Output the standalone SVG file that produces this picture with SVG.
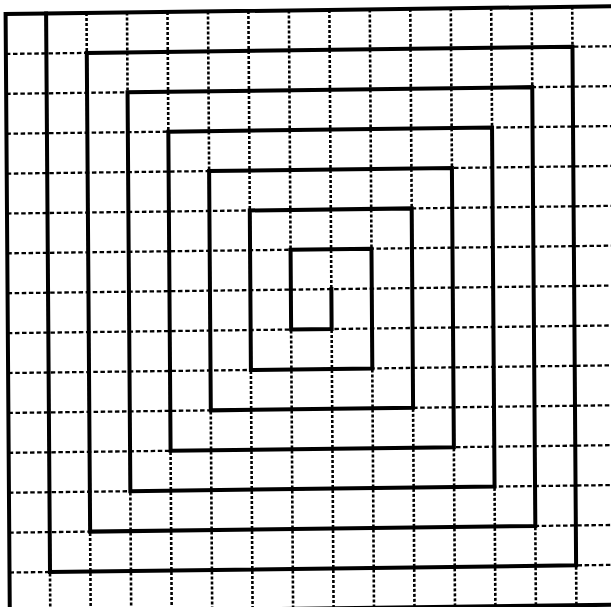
<svg xmlns="http://www.w3.org/2000/svg" width="611" height="607" viewBox="0 0 611 607">
<style>
.bg{fill:#ffffff}
.gv{fill:none;stroke:#000;stroke-width:2.6;stroke-dasharray:3 2}
.gh{fill:none;stroke:#000;stroke-width:2.3;stroke-dasharray:4.5 2.6}
.thick{fill:none;stroke:#000;stroke-width:4;stroke-linejoin:miter;stroke-linecap:square}
</style>
<rect class="bg" x="0" y="0" width="611" height="607"/>
<g id="sheet" transform="matrix(1 -0.0127 0.007 1 0 0)">
<g id="grid-vertical">
<path class="gv" d="M46 14.1V640M86.4 14.1V640M126.9 14.1V640M167.4 14.1V640M207.9 14.1V640M248.3 14.1V640M288.8 14.1V640M329.3 14.1V640M369.7 14.1V640M410.2 14.1V640M450.7 14.1V640M491.1 14.1V640M531.6 14.1V640M572.1 14.1V640"/>
</g>
<g id="grid-horizontal">
<path class="gh" d="M5.5 54H640M5.5 93.9H640M5.5 133.8H640M5.5 173.7H640M5.5 213.6H640M5.5 253.4H640M5.5 293.3H640M5.5 333.2H640M5.5 373.1H640M5.5 413H640M5.5 452.9H640M5.5 492.8H640M5.5 532.7H640M5.5 572.6H640"/>
</g>
<g id="spiral">
<path class="thick" d="M329.3 293.3V333.2H288.8V253.4H369.7V373.1H248.3V213.6H410.2V413H207.9V173.7H450.7V452.9H167.4V133.8H491.1V492.8H126.9V93.9H531.6V532.7H86.4V54H572.1V572.6H46V14.1H640"/>
</g>
<g id="border">
<path class="thick" d="M46 14.1H5.5V640"/>
<path class="thick" d="M5.5 612.5H640"/>
</g>
</g>
</svg>
